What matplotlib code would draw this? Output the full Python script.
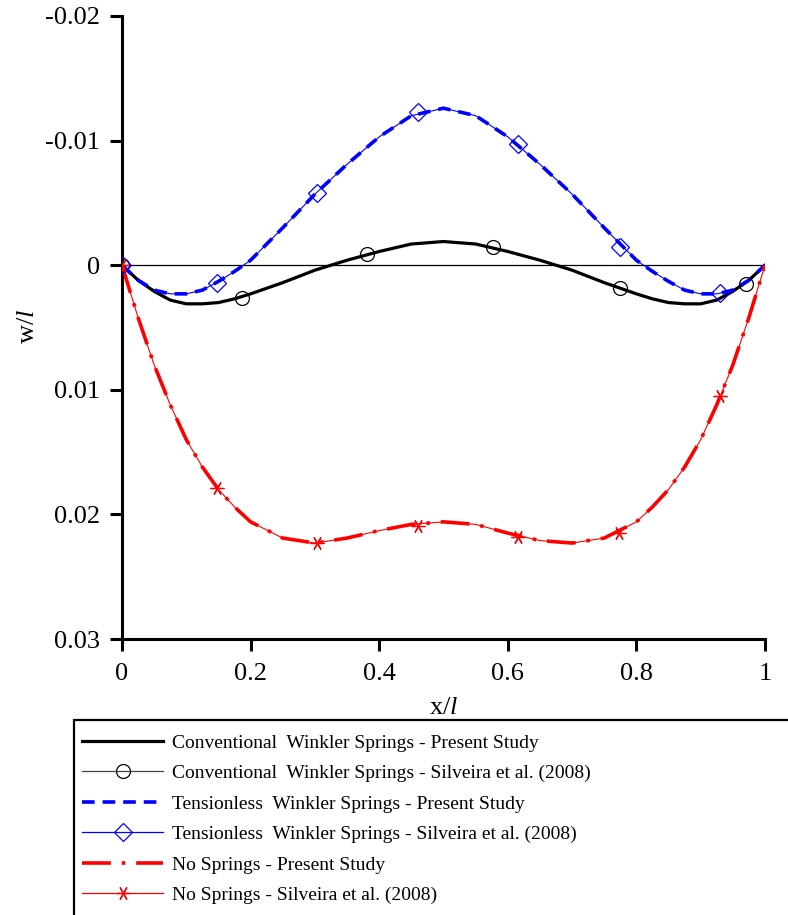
import matplotlib
matplotlib.use("Agg")
import matplotlib.pyplot as plt
from matplotlib.lines import Line2D
from matplotlib.patches import Rectangle

plt.rcParams['font.family'] = ['Liberation Serif', 'DejaVu Serif']
plt.rcParams['mathtext.fontset'] = 'custom'
plt.rcParams['mathtext.rm'] = 'Liberation Serif'
plt.rcParams['mathtext.it'] = 'Liberation Serif:italic'

# ---- data ----
x_curve = [0.0, 0.025, 0.05, 0.075, 0.1, 0.125, 0.15, 0.175, 0.2, 0.25, 0.3, 0.35, 0.4, 0.45, 0.5,
           0.55, 0.6, 0.65, 0.7, 0.75, 0.8, 0.825, 0.85, 0.875, 0.9, 0.925, 0.95, 0.975, 1.0]

conv_present = [0.0, 0.0012, 0.0021, 0.0028, 0.0031, 0.0031, 0.0030, 0.0027, 0.0023, 0.0014, 0.0004,
                -0.0004, -0.0011, -0.0017, -0.0019,
                -0.0017, -0.0011, -0.0004, 0.0004, 0.0014, 0.0023, 0.0027, 0.0030, 0.0031, 0.0031,
                0.0028, 0.0021, 0.0012, 0.0]

tens_present = [0.0, 0.0012, 0.0020, 0.0023, 0.0023, 0.0020, 0.0013, 0.0005, -0.0004, -0.0030, -0.0057,
                -0.0081, -0.0103, -0.0120, -0.0126,
                -0.0120, -0.0103, -0.0081, -0.0057, -0.0030, -0.0004, 0.0005, 0.0013, 0.0020, 0.0023,
                0.0023, 0.0020, 0.0012, 0.0]

nosp_present = [0.0, 0.0042, 0.0080, 0.0112, 0.0140, 0.0162, 0.0180, 0.0194, 0.0206, 0.0219, 0.0223,
                0.0219, 0.0213, 0.0208, 0.0206,
                0.0208, 0.0215, 0.0221, 0.0223, 0.0219, 0.0206, 0.0194, 0.0180, 0.0162, 0.0140,
                0.0112, 0.0080, 0.0042, 0.0]

x_conv_silv = [0.0, 0.187, 0.381, 0.577, 0.774, 0.970]
conv_silv = [0.0, 0.0026, -0.0009, -0.0015, 0.0018, 0.0015]

x_tens_silv = [0.0, 0.148, 0.303, 0.460, 0.616, 0.774, 0.930]
tens_silv = [0.0, 0.0014, -0.0058, -0.0123, -0.0097, -0.0015, 0.0022]

x_nosp_silv = [0.0, 0.148, 0.303, 0.460, 0.616, 0.773, 0.930]
nosp_silv = [0.0, 0.0179, 0.0223, 0.0209, 0.0218, 0.0215, 0.0105]

x_ticks = [0, 0.2, 0.4, 0.6, 0.8, 1]
x_ticklabels = ['0', '0.2', '0.4', '0.6', '0.8', '1']
y_ticks = [-0.02, -0.01, 0, 0.01, 0.02, 0.03]
y_ticklabels = ['-0.02', '-0.01', '0', '0.01', '0.02', '0.03']

labels = ['Conventional  Winkler Springs - Present Study',
          'Conventional  Winkler Springs - Silveira et al. (2008)',
          'Tensionless  Winkler Springs - Present Study',
          'Tensionless  Winkler Springs - Silveira et al. (2008)',
          'No Springs - Present Study',
          'No Springs - Silveira et al. (2008)']

W, H = 788, 915
fig = plt.figure(figsize=(W / 100, H / 100), dpi=100)
ax = fig.add_axes([122 / W, 1 - 639 / H, (765 - 122) / W, (639 - 16) / H])

# zero line
ax.plot([0, 1], [0, 0], color='black', lw=0.9, zorder=1)

# thin Silveira lines (smooth)
ax.plot(x_curve, conv_present, color='black', lw=0.8, zorder=2)
ax.plot(x_curve, tens_present, color='blue', lw=0.8, zorder=2)
ax.plot(x_curve, nosp_present, color='red', lw=0.8, zorder=2)

# present study thick lines
ax.plot(x_curve, conv_present, color='black', lw=2.3, zorder=3)
ax.plot(x_curve, tens_present, color='blue', lw=2.6, dashes=(3.5, 2.2), zorder=3)
ax.plot(x_curve, nosp_present, color='red', lw=2.6, dashes=(8, 3, 1, 3), zorder=3)

star = (6, 2, 90)
ax.plot(x_conv_silv, conv_silv, ls='none', marker='o', ms=10, mfc='none', mec='black', mew=0.9, zorder=4)
ax.plot(x_tens_silv, tens_silv, ls='none', marker='D', ms=9, mfc='none', mec='blue', mew=0.9, zorder=4)
ax.plot(x_nosp_silv, nosp_silv, ls='none', marker=star, ms=10, mfc='none', mec='red', mew=0.9, zorder=4)

ax.set_xlim(0, 1)
ax.set_ylim(0.03, -0.02)
ax.set_xticks(x_ticks)
ax.set_xticklabels(x_ticklabels)
ax.set_yticks(y_ticks)
ax.set_yticklabels(y_ticklabels)
for s in ['top', 'right']:
    ax.spines[s].set_visible(False)
for s in ['left', 'bottom']:
    ax.spines[s].set_linewidth(2.2)
ax.tick_params(direction='out', length=8.5, width=2.2, labelsize=19)
ax.tick_params(axis='y', pad=7.5)
ax.tick_params(axis='x', pad=9)
ax.set_xlabel(r'x/$l$', fontsize=19)
ax.set_ylabel(r'w/$l$', fontsize=19)
ax.xaxis.set_label_coords(0.5, -(697 - 639) / 623)
ax.yaxis.set_label_coords((28 - 122) / 643, (639 - 326) / 623)
ax.yaxis.label.set_va('center')

# legend
handles = [
    Line2D([], [], color='black', lw=2.3),
    Line2D([], [], color='#444444', lw=0.9, marker='o', ms=10, mfc='none', mec='black', mew=0.9),
    Line2D([], [], color='blue', lw=2.6, dashes=(3.5, 2.2)),
    Line2D([], [], color='blue', lw=0.9, marker='D', ms=9, mfc='none', mec='blue', mew=0.9),
    Line2D([], [], color='red', lw=2.6, dashes=(8, 3, 1, 3)),
    Line2D([], [], color='red', lw=0.9, marker=star, ms=10, mfc='none', mec='red', mew=0.9),
]
fig.legend(handles, labels, loc='upper left', bbox_to_anchor=(82 / W, 1 - 734 / H),
           frameon=False, fontsize=14, handlelength=4.17, handletextpad=0.46,
           labelspacing=0.66, borderpad=0, borderaxespad=0)
fig.add_artist(Rectangle((74 / W, -0.1), 1.0, (H - 720) / H + 0.1, transform=fig.transFigure,
                         fill=False, ec='black', lw=1.6))

fig.savefig('out.png', dpi=100)
